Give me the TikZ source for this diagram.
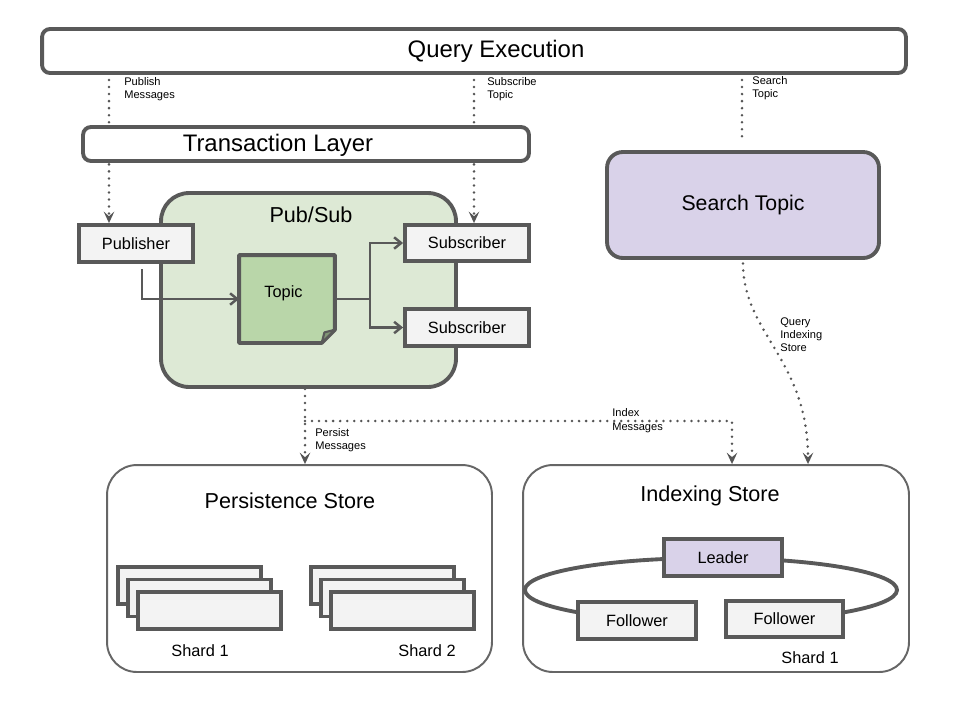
\documentclass[tikz,border=0pt]{standalone}
\usepackage{fontspec}
\setmainfont{Liberation Sans}
\usetikzlibrary{arrows.meta,backgrounds}
\definecolor{edgegray}{HTML}{595959}
\definecolor{storegray}{HTML}{666666}
\definecolor{dotgray}{HTML}{555555}
\definecolor{boxgray}{HTML}{F3F3F3}
\definecolor{psgreen}{HTML}{DDE9D5}
\definecolor{topicgreen}{HTML}{B9D6A9}
\definecolor{lavender}{HTML}{D9D2E9}
\tikzset{
  box/.style={draw=edgegray, line width=2.2pt, fill=boxgray, inner sep=0pt,
    font=\fontsize{9.3}{11}\selectfont},
  bar/.style={draw=edgegray, line width=2.2pt, fill=white, rounded corners=4.5pt, inner sep=0pt},
  store/.style={draw=storegray, line width=1.1pt, fill=white, rounded corners=17pt, inner sep=0pt},
  shard/.style={box, minimum width=2.86cm, minimum height=0.74cm, line width=2pt},
  bigtext/.style={font=\fontsize{13.6}{16}\selectfont, inner sep=0pt},
  title/.style={font=\fontsize{12.3}{14}\selectfont, inner sep=0pt},
  plain/.style={font=\fontsize{9.3}{11}\selectfont, inner sep=0pt},
  note/.style={font=\fontsize{6.3}{7.4}\selectfont, align=left, anchor=north west, inner sep=0pt},
  flow/.style={draw=dotgray, line width=1.6pt, line cap=round, dash pattern=on 0pt off 4pt},
  tip/.style={-{Stealth[length=6.5pt, width=6pt, inset=2.6pt]}},
  link/.style={draw=edgegray, line width=1.4pt, -{Straight Barb[length=4pt, width=6.5pt]}}
}
\begin{document}
\begin{tikzpicture}[x=0.02cm, y=-0.02cm]
    \useasboundingbox (0,0) rectangle (955,714);
    % Top layers
    \node[bar, minimum width=17.28cm, minimum height=0.88cm] (qe) at (474,51) {};
    \node[bigtext] (qetext) at (496,51) {Query Execution};
    \node[bar, minimum width=8.92cm, minimum height=0.68cm] (tl) at (306,144) {};
    \node[bigtext] (tltext) at (278,145) {Transaction Layer};
    % Search topic
    \node[box, fill=lavender, rounded corners=9pt, minimum width=5.44cm, minimum height=2.12cm,
      font=\fontsize{12.1}{14}\selectfont] (st) at (743,205) {Search Topic};
    % Pub/Sub block
    \node[box, fill=psgreen, rounded corners=16pt, minimum width=5.9cm, minimum height=3.88cm] (ps) at (308.5,290) {};
    \node[title] (pstext) at (311,215) {Pub/Sub};
    \node[box, minimum width=2.28cm, minimum height=0.74cm] (pub) at (136,243.5) {Publisher};
    \node[box, minimum width=2.48cm, minimum height=0.72cm] (sub1) at (467,243) {Subscriber};
    \node[box, minimum width=2.48cm, minimum height=0.74cm] (sub2) at (467,327.5) {Subscriber};
    \node[minimum width=1.84cm, minimum height=1.68cm, inner sep=0pt, outer sep=1.1pt] (topic) at (287,299) {};
    \filldraw[fill=topicgreen, draw=edgegray, line width=2.2pt, line join=round]
      (topic.north west) -- (topic.north east) -- ([yshift=7.5pt]topic.south east)
      -- ([xshift=-7.5pt]topic.south east) -- (topic.south west) -- cycle;
    \filldraw[fill=topicgreen!70!black, draw=edgegray, line width=1.2pt, line join=round]
      ([yshift=7.5pt]topic.south east) -- ([shift={(-6pt,6pt)}]topic.south east)
      -- ([xshift=-7.5pt]topic.south east) -- cycle;
    \node[plain] (topictext) at ([shift={(-2pt,3.4pt)}]topic.center) {Topic};
    % Arrows inside Pub/Sub
    \draw[link] ([shift={(3.4pt,-3pt)}]pub.south) |- (topic.west);
    \draw[link] (topic.east) -- ++(35,0) |- (sub1.west);
    \draw[link] (topic.east) -- ++(35,0) |- (sub2.west);
    % Stores
    \node[store, minimum width=7.7cm, minimum height=4.14cm] (pst) at (299.5,568.5) {};
    \node[title] (psttext) at (290,501) {Persistence Store};
    \node[store, minimum width=7.72cm, minimum height=4.14cm] (ist) at (716,568.5) {};
    \node[title] (isttext) at (710,496) {Indexing Store};
    % Shards of the persistence store
    \foreach \k in {0,1,2} {
      \node[shard] (sa\k) at (189.5+10*\k,585.5+12.5*\k) {};
      \node[shard] (sb\k) at (382.5+10*\k,585.5+12.5*\k) {};
    }
    \node[plain] (shardone) at (200,651) {Shard 1};
    \node[plain] (shardtwo) at (427,651) {Shard 2};
    % Replica ring, open between the followers
    \draw[edgegray, line width=2.2pt] (636.8,619.3) arc[start angle=113.5, end angle=426.7, x radius=186, y radius=32];
    \node[box, fill=lavender, minimum width=2.36cm, minimum height=0.74cm] (lead) at (723,557.5) {Leader};
    \node[box, minimum width=2.36cm, minimum height=0.74cm] (fol1) at (637,620.5) {Follower};
    \node[box, minimum width=2.34cm, minimum height=0.72cm] (fol2) at (784.5,619) {Follower};
    \node[plain] (ringshard) at (810,658) {Shard 1};
    % Dotted message flows
    \coordinate (pubin) at (109,73);
    \coordinate (subin) at (474,73);
    \coordinate (stin) at (742,73);
    \coordinate (fork) at (305,421);
    \coordinate (idxin) at (732,421);
    \coordinate (qin) at (808,465);
    \begin{scope}[on background layer]
      \fill[white] (0,0) rectangle (955,714);
      \draw[flow, tip] (pubin) -- (pubin |- pub.north);
      \draw[flow, tip] (subin) -- (subin |- sub1.north);
      \draw[flow, shorten >=5pt] (stin) -- (stin |- st.north);
      \draw[flow, tip] (fork |- ps.south) -- (fork |- pst.north);
      \draw[flow, tip] (fork) -- (idxin) -- (idxin |- ist.north);
      \draw[flow, tip] ([yshift=-2pt]st.south) .. controls +(0,70) and +(0,-105) .. (qin |- ist.north);
    \end{scope}
    % Flow labels
    \node[note] (pubnote) at (124,77) {Publish\\Messages};
    \node[note] (subnote) at (487,77) {Subscribe\\Topic};
    \node[note] (stnote) at (752,76) {Search\\Topic};
    \node[note] (persnote) at (315,428) {Persist\\Messages};
    \node[note, font=\fontsize{6.3}{8.2}\selectfont] (idxnote) at (612,408) {Index\\Messages};
    \node[note] (qnote) at (780,317) {Query\\Indexing\\Store};
\end{tikzpicture}
\end{document}
